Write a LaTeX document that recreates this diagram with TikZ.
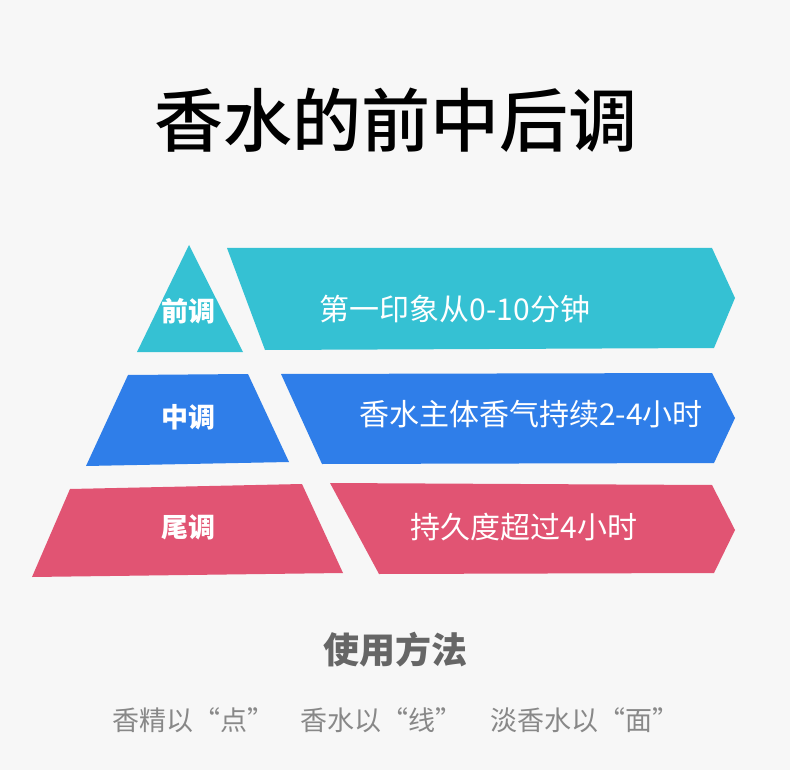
\documentclass[tikz,border=0pt]{standalone}
\usepackage{fontspec}
\usepackage{xcolor}
\usepackage{tikz}
\setmainfont{Noto Sans CJK SC}
\newfontfamily\cjk{Noto Sans CJK SC}
\newfontfamily\cjkmed{Noto Sans CJK SC Medium}
\definecolor{pbg}{HTML}{F7F7F7}
\definecolor{pcyan}{HTML}{35C1D3}
\definecolor{pblue}{HTML}{2F7EE9}
\definecolor{ppink}{HTML}{E15473}
\definecolor{pgray}{HTML}{666666}
\definecolor{plgray}{HTML}{888888}

\begin{document}
\begin{tikzpicture}[x=1pt, y=-1pt,
  tag/.style={font=\cjk\bfseries\fontsize{27}{30}\selectfont, text=white, inner sep=0pt},
  note/.style={font=\cjk\fontsize{30}{32}\selectfont, text=white, inner sep=0pt},
  usage/.style={font=\cjk\fontsize{27}{30}\selectfont, text=plgray, inner sep=0pt}]
\fill[pbg] (0,0) rectangle (790,770);
\node[font=\cjkmed\fontsize{69}{72}\selectfont, text=black, inner sep=0pt]
  (title) at (396,120) {香水的前中后调};
% pyramid, left half
\fill[pcyan] (189,245) -- (243,352) -- (137,352) -- cycle;
\fill[pblue] (128,375) -- (248,374) -- (289,462) -- (86,466) -- cycle;
\fill[ppink] (70,489) -- (302,484) -- (343,573) -- (32,577) -- cycle;
% arrows, right half
\fill[pcyan] (227,248) -- (712,248) -- (735,298) -- (714,348) -- (265,350) -- cycle;
\fill[pblue] (281,374) -- (712,373) -- (735,418) -- (714,463) -- (322,464) -- cycle;
\fill[ppink] (330,483) -- (712,485) -- (735,530) -- (714,573) -- (379,574) -- cycle;
\node[tag] (top) at (188,311) {前调};
\node[tag] (mid) at (188,417) {中调};
\node[tag] (base) at (188,527) {尾调};
\node[note] (topnote) at (455,309) {第一印象从0-10分钟};
\node[note] (midnote) at (531,414) {香水主体香气持续2-4小时};
\node[note] (basenote) at (524,527) {持久度超过4小时};
\node[font=\cjk\bfseries\fontsize{36}{40}\selectfont, text=pgray, inner sep=0pt]
  (howto) at (395,650) {使用方法};
\node[usage] (essence) at (193,720) {香精以“点”};
\node[usage] (edp) at (381,720) {香水以“线”};
\node[usage] (edt) at (585,720) {淡香水以“面”};
\end{tikzpicture}
\end{document}
